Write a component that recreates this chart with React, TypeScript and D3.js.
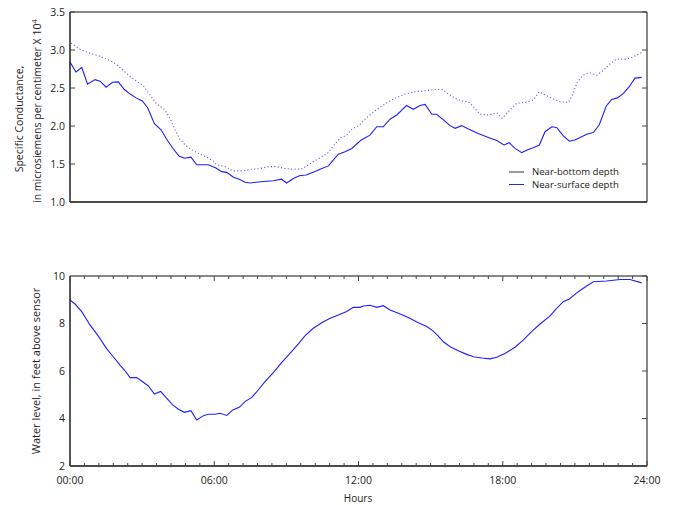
import React from "react";
import * as d3 from "d3";

// Near-surface depth (solid line): hours, specific conductance (x 10^4 µS/cm)
const surfaceHours = [0, 0.25, 0.49, 0.73, 1.04, 1.25, 1.5, 1.77, 2.01, 2.26, 2.5, 2.75, 3.01, 3.23, 3.51, 3.79, 4.02, 4.27, 4.53, 4.76, 5.03, 5.27, 5.75, 6.05, 6.31, 6.52, 6.8, 7.04, 7.28, 7.49, 7.76, 8.04, 8.46, 8.8, 9.01, 9.29, 9.54, 9.82, 10.12, 10.4, 10.75, 10.93, 11.16, 11.44, 11.72, 11.95, 12.13, 12.48, 12.76, 13.03, 13.31, 13.59, 13.8, 14.0, 14.28, 14.56, 14.77, 15.05, 15.25, 15.57, 15.81, 16.02, 16.29, 16.57, 16.98, 17.4, 17.75, 18.05, 18.27, 18.51, 18.79, 19.06, 19.27, 19.52, 19.76, 20.04, 20.24, 20.52, 20.77, 21.0, 21.28, 21.52, 21.77, 22.02, 22.3, 22.53, 22.77, 23.02, 23.27, 23.5, 23.78];
const surfaceCond = [2.84, 2.71, 2.77, 2.55, 2.61, 2.59, 2.51, 2.575, 2.58, 2.48, 2.42, 2.37, 2.33, 2.24, 2.03, 1.95, 1.825, 1.71, 1.605, 1.575, 1.59, 1.49, 1.49, 1.45, 1.4, 1.39, 1.325, 1.3, 1.26, 1.25, 1.26, 1.27, 1.28, 1.3, 1.25, 1.31, 1.345, 1.355, 1.39, 1.43, 1.475, 1.545, 1.63, 1.66, 1.705, 1.77, 1.82, 1.88, 1.99, 1.99, 2.09, 2.145, 2.21, 2.27, 2.22, 2.27, 2.285, 2.155, 2.155, 2.07, 2.005, 1.97, 2.005, 1.96, 1.9, 1.85, 1.81, 1.75, 1.78, 1.705, 1.65, 1.69, 1.715, 1.75, 1.925, 1.99, 1.98, 1.87, 1.8, 1.815, 1.86, 1.895, 1.915, 2.02, 2.26, 2.35, 2.37, 2.43, 2.52, 2.63, 2.64];

// Near-bottom depth (dotted line)
const bottomHours = [0.05, 0.42, 0.76, 1.18, 1.53, 1.87, 2.15, 2.43, 2.77, 3.05, 3.33, 3.6, 3.92, 4.16, 4.37, 4.58, 4.9, 5.27, 5.62, 5.95, 6.1, 6.45, 6.77, 7.21, 7.56, 7.9, 8.25, 8.6, 8.94, 9.29, 9.68, 9.91, 10.19, 10.47, 10.75, 10.98, 11.23, 11.51, 11.72, 12.03, 12.27, 12.69, 13.1, 13.52, 13.93, 14.35, 14.77, 15.18, 15.49, 15.74, 16.02, 16.29, 16.57, 16.85, 17.05, 17.4, 17.75, 17.97, 18.3, 18.58, 18.93, 19.27, 19.52, 19.76, 20.04, 20.38, 20.73, 20.9, 21.1, 21.35, 21.6, 21.91, 22.18, 22.46, 22.74, 23.09, 23.36, 23.64, 23.78];
const bottomCond = [3.09, 3.01, 2.965, 2.925, 2.88, 2.825, 2.75, 2.67, 2.59, 2.53, 2.41, 2.29, 2.22, 2.1, 1.95, 1.82, 1.72, 1.65, 1.6, 1.54, 1.49, 1.465, 1.41, 1.41, 1.43, 1.44, 1.465, 1.465, 1.44, 1.43, 1.44, 1.49, 1.545, 1.595, 1.65, 1.75, 1.84, 1.88, 1.955, 2.01, 2.09, 2.2, 2.29, 2.365, 2.42, 2.45, 2.465, 2.48, 2.48, 2.42, 2.365, 2.33, 2.32, 2.23, 2.155, 2.145, 2.175, 2.1, 2.21, 2.3, 2.31, 2.34, 2.45, 2.41, 2.365, 2.32, 2.31, 2.41, 2.58, 2.67, 2.7, 2.67, 2.73, 2.82, 2.88, 2.88, 2.9, 2.945, 2.965];

// Water level, feet above sensor
const levelHours = [0, 0.21, 0.49, 0.83, 1.18, 1.53, 1.8, 2.08, 2.29, 2.5, 2.77, 2.98, 3.26, 3.51, 3.77, 3.99, 4.27, 4.51, 4.76, 5.03, 5.27, 5.55, 5.75, 6.03, 6.24, 6.52, 6.77, 7.04, 7.28, 7.56, 7.83, 8.11, 8.46, 8.8, 9.15, 9.5, 9.78, 10.12, 10.47, 10.82, 11.16, 11.51, 11.78, 12.06, 12.2, 12.48, 12.76, 13.03, 13.31, 13.66, 14.07, 14.49, 14.84, 15.11, 15.32, 15.53, 15.81, 16.15, 16.5, 16.78, 17.13, 17.47, 17.75, 18.09, 18.51, 18.86, 19.2, 19.55, 19.97, 20.24, 20.52, 20.77, 21.14, 21.49, 21.77, 22.32, 22.88, 23.29, 23.78];
const levelFeet = [8.99, 8.82, 8.5, 7.94, 7.47, 6.93, 6.6, 6.25, 6.01, 5.72, 5.72, 5.58, 5.37, 5.03, 5.14, 4.89, 4.57, 4.39, 4.26, 4.33, 3.94, 4.12, 4.18, 4.18, 4.22, 4.13, 4.36, 4.47, 4.71, 4.89, 5.2, 5.55, 5.93, 6.35, 6.74, 7.14, 7.49, 7.8, 8.03, 8.22, 8.36, 8.51, 8.68, 8.68, 8.74, 8.77, 8.68, 8.75, 8.57, 8.43, 8.25, 8.03, 7.87, 7.68, 7.47, 7.23, 7.02, 6.85, 6.7, 6.6, 6.55, 6.51, 6.58, 6.74, 7.0, 7.31, 7.66, 7.98, 8.32, 8.64, 8.92, 9.03, 9.34, 9.58, 9.76, 9.79, 9.85, 9.85, 9.71];

const condTicks = [1.0, 1.5, 2.0, 2.5, 3.0, 3.5];
const levelTicks = [2, 4, 6, 8, 10];
const hourTicks = [0, 6, 12, 18, 24];
const hourTickLabels = ["00:00", "06:00", "12:00", "18:00", "24:00"];
const legendLabels = ["Near-bottom depth", "Near-surface depth"];

const FONT = "'Open Sans', 'DejaVu Sans', sans-serif";
const BLUE = "#1f1fff";
const TEXT = "#222";
const AXIS = "#111";

export default function App() {
  const x = d3.scaleLinear().domain([0, 24]).range([70, 647]);
  const yTop = d3.scaleLinear().domain([1, 3.5]).range([202, 12]);
  const yBot = d3.scaleLinear().domain([2, 10]).range([466, 276]);

  const lineTop = d3
    .line<number>()
    .x((_, i) => x(surfaceHours[i]))
    .y((d) => yTop(d));
  const lineTopB = d3
    .line<number>()
    .x((_, i) => x(bottomHours[i]))
    .y((d) => yTop(d));
  const lineBot = d3
    .line<number>()
    .x((_, i) => x(levelHours[i]))
    .y((d) => yBot(d));

  const minorTicks = d3.range(0, 24.0001, 0.6);

  const [x0, x1] = x.range();
  const [tb, tt] = yTop.range();
  const [bb, bt] = yBot.range();

  return (
    <svg
      width={674}
      height={505}
      style={{ position: "absolute", left: 0, top: 0, background: "#fff" }}
      fontFamily={FONT}
    >
      {/* ---------- Top panel ---------- */}
      <path d={lineTopB(bottomCond) || ""} fill="none" stroke={BLUE} strokeWidth={1.1} strokeDasharray="1.1,2.3" opacity={0.75} />
      <path d={lineTop(surfaceCond) || ""} fill="none" stroke={BLUE} strokeWidth={1.1} />
      {/* frame */}
      <line x1={x0} x2={x1} y1={tt} y2={tt} stroke={AXIS} strokeWidth={1} />
      <line x1={x1} x2={x1} y1={tt} y2={tb} stroke={AXIS} strokeWidth={1} />
      <line x1={x0} x2={x0} y1={tt} y2={tb} stroke={AXIS} strokeWidth={1.4} />
      <line x1={x0} x2={x1} y1={tb} y2={tb} stroke={AXIS} strokeWidth={1.6} />
      {condTicks.map((t) => (
        <g key={"ct" + t}>
          <line x1={x0} x2={x0 + 5} y1={yTop(t)} y2={yTop(t)} stroke="#444" strokeWidth={1} />
          <line x1={x1 - 5} x2={x1} y1={yTop(t)} y2={yTop(t)} stroke="#444" strokeWidth={1} />
          <text x={65} y={yTop(t)} dy="0.35em" textAnchor="end" fontSize={10.5} fill={TEXT}>
            {t.toFixed(1)}
          </text>
        </g>
      ))}
      <text transform={`translate(19,119) rotate(-90)`} textAnchor="middle" dy="0.35em" fontSize={10.5} fill={TEXT}>
        Specific Conductance,
      </text>
      <text transform={`translate(37,111) rotate(-90)`} textAnchor="middle" dy="0.35em" fontSize={10.5} fill={TEXT}>
        in microsiemens per centimeter X 10
        <tspan dy="-0.5em" fontSize={8}>4</tspan>
      </text>
      {/* legend */}
      {legendLabels.map((lab, i) => (
        <g key={lab}>
          <line x1={509} x2={524} y1={172 + i * 12.5} y2={172 + i * 12.5} stroke={i === 0 ? "#333" : "#2233cc"} strokeWidth={1} />
          <text x={532} y={172 + i * 12.5} dy="0.35em" fontSize={9.6} fill={TEXT}>
            {lab}
          </text>
        </g>
      ))}

      {/* ---------- Bottom panel ---------- */}
      <path d={lineBot(levelFeet) || ""} fill="none" stroke={BLUE} strokeWidth={1.1} />
      <line x1={x0} x2={x1} y1={bt} y2={bt} stroke={AXIS} strokeWidth={1} />
      <line x1={x1} x2={x1} y1={bt} y2={bb} stroke={AXIS} strokeWidth={1} />
      <line x1={x0} x2={x0} y1={bt} y2={bb} stroke={AXIS} strokeWidth={1.4} />
      <line x1={x0} x2={x1} y1={bb} y2={bb} stroke={AXIS} strokeWidth={1.6} />
      {minorTicks.map((t) => {
        const major = Math.abs(t / 6 - Math.round(t / 6)) < 1e-6;
        const len = major ? 5 : 3;
        return (
          <g key={"mt" + t}>
            <line x1={x(t)} x2={x(t)} y1={bt} y2={bt + len} stroke="#444" strokeWidth={1} />
            <line x1={x(t)} x2={x(t)} y1={bb} y2={bb - len} stroke="#444" strokeWidth={1} />
          </g>
        );
      })}
      {levelTicks.map((t) => (
        <g key={"lt" + t}>
          <line x1={x1 - 5} x2={x1} y1={yBot(t)} y2={yBot(t)} stroke="#444" strokeWidth={1} />
          <text x={65} y={yBot(t)} dy="0.35em" textAnchor="end" fontSize={10.5} fill={TEXT}>
            {t}
          </text>
        </g>
      ))}
      {hourTicks.map((t, i) => (
        <text key={"hl" + t} x={x(t)} y={484} textAnchor="middle" fontSize={10.5} fill={TEXT}>
          {hourTickLabels[i]}
        </text>
      ))}
      <text transform={`translate(36,371) rotate(-90)`} textAnchor="middle" dy="0.35em" fontSize={11} fill={TEXT}>
        Water level, in feet above sensor
      </text>
      <text x={358} y={502} textAnchor="middle" fontSize={10} fill={TEXT}>
        Hours
      </text>
    </svg>
  );
}
